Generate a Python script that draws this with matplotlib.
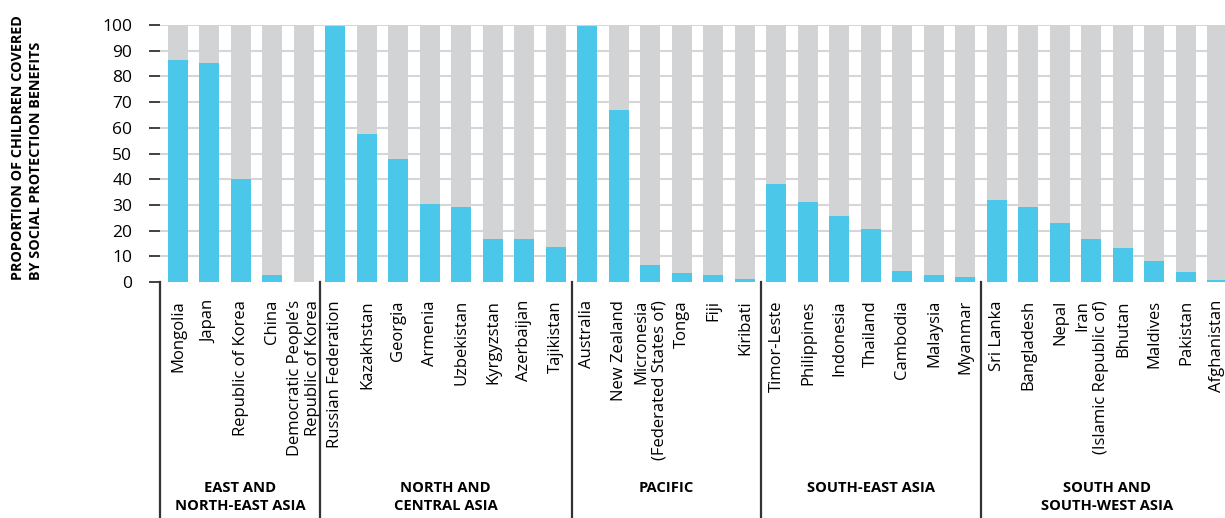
import numpy as np
import matplotlib
matplotlib.use("Agg")
import matplotlib.pyplot as plt
import matplotlib.transforms as mtransforms

plt.rcParams['font.family'] = ['Open Sans', 'DejaVu Sans']

# Countries by sub-region, with share of children covered (%)
groups = ["EAST AND\nNORTH-EAST ASIA", "NORTH AND\nCENTRAL ASIA", "PACIFIC",
          "SOUTH-EAST ASIA", "SOUTH AND\nSOUTH-WEST ASIA"]
group_sizes = [5, 8, 6, 7, 8]

countries = [
    "Mongolia", "Japan", "Republic of Korea", "China",
    "Democratic People\u2019s\nRepublic of Korea",
    "Russian Federation", "Kazakhstan", "Georgia", "Armenia", "Uzbekistan",
    "Kyrgyzstan", "Azerbaijan", "Tajikistan",
    "Australia", "New Zealand", "Micronesia\n(Federated States of)", "Tonga",
    "Fiji", "Kiribati",
    "Timor-Leste", "Philippines", "Indonesia", "Thailand", "Cambodia",
    "Malaysia", "Myanmar",
    "Sri Lanka", "Bangladesh", "Nepal", "Iran\n(Islamic Republic of)",
    "Bhutan", "Maldives", "Pakistan", "Afghanistan",
]
coverage = [
    86.4, 85.2, 40.1, 2.7, 0.0,
    99.8, 57.6, 47.9, 30.4, 29.2, 16.7, 16.7, 13.6,
    99.8, 67.0, 6.7, 3.4, 2.6, 1.2,
    38.1, 31.1, 25.6, 20.6, 4.3, 2.7, 1.9,
    31.9, 29.0, 22.8, 16.6, 13.1, 8.2, 4.0, 0.7,
]

blue = "#4AC7E9"
grey = "#D1D3D4"
dark = "#333333"

fig = plt.figure(figsize=(12.25, 5.18), dpi=100)
ax = fig.add_axes([160 / 1225, 1 - 282 / 518, (1225 - 160) / 1225, 257 / 518])

x = np.arange(len(countries))
ax.bar(x, [100] * len(x), width=0.635, color=grey, zorder=2)
ax.bar(x, coverage, width=0.635, color=blue, zorder=3)

ax.set_xlim(-0.571, 33.24)
ax.set_ylim(0, 100)
ax.set_yticks(range(0, 101, 10))
ax.yaxis.grid(True, color="#D6D6D6", linewidth=1.5, zorder=1)
ax.get_ygridlines()[0].set_visible(False)
ax.tick_params(axis="y", length=8, width=1.3, color=dark, pad=12, labelsize=12.5)

ax.set_xticks(x)
ax.set_xticklabels(countries, rotation=90, fontsize=12)
for lbl in ax.get_xticklabels():
    lbl.set_multialignment("right")
ax.tick_params(axis="x", length=0, pad=13)

for s in ax.spines.values():
    s.set_visible(False)

# group separators and labels
trans = mtransforms.blended_transform_factory(ax.transData, ax.transAxes)
ax.plot([0, 0], [0, -1], transform=ax.transAxes, color=dark, lw=1.6, clip_on=False)
start = 0
for name, n in zip(groups, group_sizes):
    end = start + n
    if end < len(countries):
        ax.plot([end - 0.5, end - 0.5], [0, -1], transform=trans, color=dark,
                lw=1.6, clip_on=False)
    left = -0.571 if start == 0 else start - 0.5
    ax.text((left + end - 0.5) / 2, -0.775, name, transform=trans, ha="center",
            va="top", fontsize=10.6, fontweight="bold", linespacing=1.35)
    start = end

fig.text(27 / 1225, 1 - 280 / 518,
         "PROPORTION OF CHILDREN COVERED\nBY SOCIAL PROTECTION BENEFITS",
         rotation=90, ha="center", va="bottom", ma="left", fontsize=10.4,
         fontweight="bold", linespacing=1.4)

fig.savefig("out.png", dpi=100)
